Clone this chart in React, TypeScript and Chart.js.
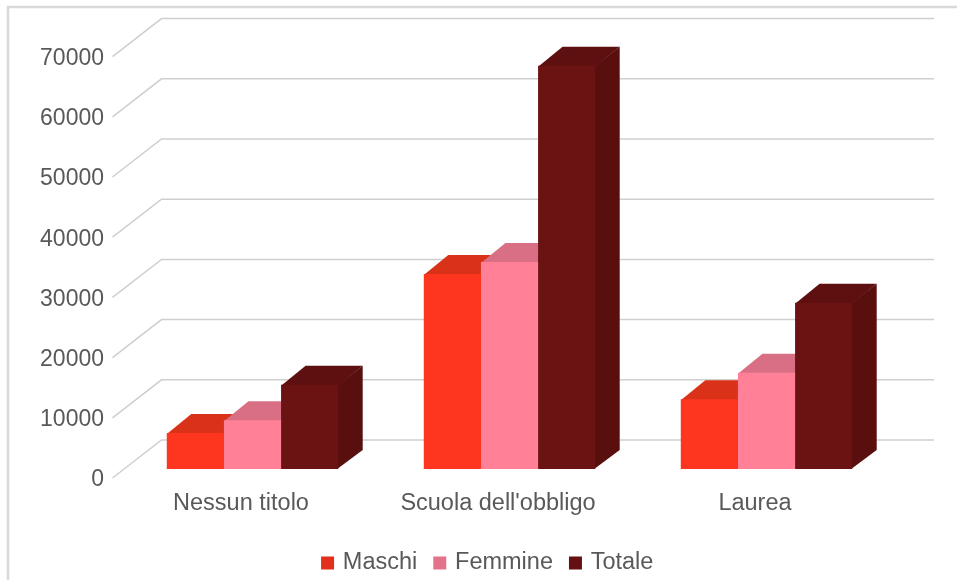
import React, { useEffect, useRef } from "react";
import { Chart, registerables } from "chart.js";

Chart.register(...registerables);

const categories = ["Nessun titolo", "Scuola dell'obbligo", "Laurea"];
const maschi = [6000, 32400, 11600];
const femmine = [8100, 34400, 16000];
const totale = [14000, 67000, 27600];
const seriesNames = ["Maschi", "Femmine", "Totale"];

const FRONT = ["#FF361F", "#FF8097", "#6B1312"];
const TOP = ["#D93219", "#D96F85", "#5E1011"];
const SIDE = ["#C92A15", "#C9627A", "#580F0E"];
const LEGEND = ["#E1301C", "#E3738A", "#651013"];

const FONT = "'Liberation Sans', Arial, sans-serif";
const TEXT = "#595959";
const GRID = "#cfcfcf";
const OFFSET = { x: 11.5, y: -9 };
const BAR_DEPTH = { x: 24.5, y: -19 };
const WALL_DEPTH = { x: 49, y: -38 };

const poly = (ctx: CanvasRenderingContext2D, color: string, pts: number[][]) => {
  ctx.fillStyle = color;
  ctx.beginPath();
  pts.forEach(([x, y], i) => (i ? ctx.lineTo(x, y) : ctx.moveTo(x, y)));
  ctx.closePath();
  ctx.fill();
};

const threeD = {
  id: "threeD",
  afterLayout(chart: any) {
    chart.legend.left += 47;
    chart.legend.right += 47;
    chart.legend.top += 2;
    chart.legend.bottom += 2;
  },
  beforeDraw(chart: any) {
    const { ctx, width, height } = chart;
    ctx.save();
    ctx.fillStyle = "#ffffff";
    ctx.fillRect(0, 0, width, height);
    ctx.strokeStyle = "#d9d9d9";
    ctx.lineWidth = 2.5;
    ctx.beginPath();
    ctx.moveTo(8, height + 2);
    ctx.lineTo(8, 7);
    ctx.lineTo(width + 2, 7);
    ctx.stroke();
    ctx.restore();
  },
  beforeDatasetsDraw(chart: any) {
    const { ctx, chartArea, scales } = chart;
    ctx.save();
    ctx.strokeStyle = GRID;
    ctx.lineWidth = 1.5;
    scales.y.ticks.forEach((t: any) => {
      const y = scales.y.getPixelForValue(t.value);
      ctx.beginPath();
      ctx.moveTo(chartArea.left, y);
      ctx.lineTo(chartArea.left + WALL_DEPTH.x, y + WALL_DEPTH.y);
      ctx.lineTo(chartArea.right + WALL_DEPTH.x + 1.5, y + WALL_DEPTH.y);
      ctx.stroke();
    });
    ctx.restore();

    ctx.save();
    ctx.translate(OFFSET.x, OFFSET.y);
    chart.data.datasets.forEach((_: any, i: number) => {
      chart.getDatasetMeta(i).data.forEach((el: any) => {
        const { x, y, base, width } = el.getProps(["x", "y", "base", "width"], true);
        const l = x - width / 2;
        const r = x + width / 2;
        const d = BAR_DEPTH;
        poly(ctx, SIDE[i], [[r - 1, base], [r + d.x, base + d.y], [r + d.x, y + d.y], [r - 1, y + 1]]);
        poly(ctx, TOP[i], [[l, y + 1], [l + d.x, y + d.y], [r + d.x, y + d.y], [r, y + 1]]);
      });
    });
  },
  afterDatasetsDraw(chart: any) {
    chart.ctx.restore();
  },
};

export default function App() {
  const ref = useRef<HTMLCanvasElement>(null);
  useEffect(() => {
    document.body.style.margin = "0";
    const chart = new Chart(ref.current!, {
      type: "bar",
      data: {
        labels: categories,
        datasets: [maschi, femmine, totale].map((data, i) => ({
          label: seriesNames[i],
          data,
          backgroundColor: FRONT[i],
          borderWidth: 0,
          categoryPercentage: 0.667,
          barPercentage: 1,
          clip: false as any,
        })),
      },
      options: {
        responsive: false,
        animation: false,
        layout: { padding: { top: 56.6, left: 0, right: 73.5, bottom: -2.75 } },
        plugins: {
          tooltip: { enabled: false },
          title: { display: false },
          legend: {
            position: "bottom",
            labels: {
              boxWidth: 7,
              boxHeight: 7,
              padding: 19,
              color: TEXT,
              font: { family: FONT, size: 23.5 },
              generateLabels: () =>
                seriesNames.map((text, i) => ({
                  text,
                  fillStyle: LEGEND[i],
                  strokeStyle: LEGEND[i],
                  lineWidth: 6,
                  lineJoin: "miter" as const,
                  fontColor: TEXT,
                  datasetIndex: i,
                })),
            },
          },
        },
        scales: {
          x: {
            grid: { display: false, drawTicks: false },
            border: { display: false },
            ticks: { color: TEXT, padding: 11, maxRotation: 0, font: { family: FONT, size: 23.5 } },
            afterFit: (s: any) => {
              s.height = 52.25;
            },
          },
          y: {
            min: 0,
            max: 70000,
            grid: { display: false, drawTicks: false },
            border: { display: false },
            ticks: {
              stepSize: 10000,
              color: TEXT,
              padding: 8.5,
              labelOffset: 2,
              font: { family: FONT, size: 23 },
              callback: (v: any) => String(v),
            },
            afterFit: (s: any) => {
              s.width = 112.5;
            },
          },
        },
      },
      plugins: [threeD],
    });
    return () => chart.destroy();
  }, []);
  return (
    <div style={{ position: "absolute", left: 0, top: 0, width: 957, height: 580, overflow: "hidden" }}>
      <canvas ref={ref} width={957} height={580} style={{ display: "block" }} />
    </div>
  );
}
